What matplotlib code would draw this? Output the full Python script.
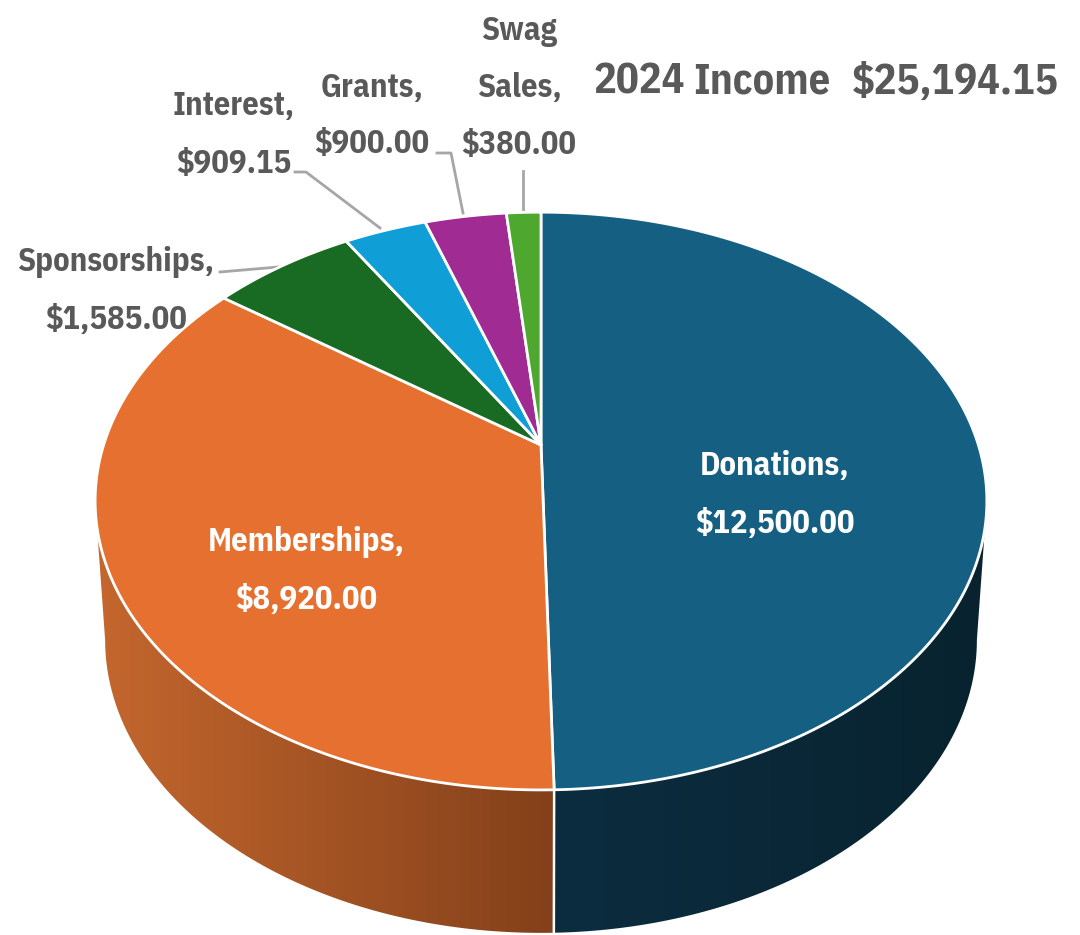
import numpy as np
import matplotlib
matplotlib.use("Agg")
from matplotlib import pyplot as plt
from matplotlib.colors import LinearSegmentedColormap
from matplotlib.patches import Polygon

names = ["Donations", "Memberships", "Sponsorships", "Interest", "Grants", "Swag\nSales"]
values = [12500.00, 8920.00, 1585.00, 909.15, 900.00, 380.00]
colors = ["#156082", "#E6702F", "#196B24", "#0F9ED5", "#A02B93", "#4EA72E"]
title_parts = ["2024", "Income", "$25,194.15"]

plt.rcParams["font.family"] = ["IBM Plex Sans Condensed", "Roboto Condensed", "Roboto", "DejaVu Sans"]
plt.rcParams["font.weight"] = "bold"


def rim(theta, cy=445, a=437.4, b=278, k=0.194):
    # circle seen in perspective, theta runs clockwise from the top
    w = 1 + k * np.cos(theta)
    return 541 + a * np.sin(theta) / w, cy - b * np.cos(theta) / w


def lower(theta):
    return rim(theta, cy=583, a=427.6, b=282)


fig = plt.figure(figsize=(10.8, 9.35), dpi=100)
ax = fig.add_axes([0, 0, 1, 1])
ax.axis("off")

edges = np.cumsum([0] + values) / sum(values) * 2 * np.pi
seam = edges[1]
side_start = np.arccos(-0.194)

# side walls, donations on the right and memberships on the left
t_right = np.linspace(side_start, seam, 200)
t_left = np.linspace(seam, 2 * np.pi - side_start, 200)
side_cmaps = [
    LinearSegmentedColormap.from_list("navy", ["#0C2D40", "#08232F"]),
    LinearSegmentedColormap.from_list("orange", ["#C4672E", "#83401A"]),
]
for t, cmap in zip([t_right, t_left], side_cmaps):
    x1, y1 = rim(t)
    x2, y2 = lower(t)
    xy = np.column_stack([np.r_[x1, x2[::-1]], np.r_[y1, y2[::-1]]])
    patch = Polygon(xy, closed=True, fc="none", ec="none")
    ax.add_patch(patch)
    grad = np.linspace(0, 1, 256).reshape(1, -1)
    im = ax.imshow(grad, cmap=cmap, extent=[xy[:, 0].min(), xy[:, 0].max(), 940, 300],
                   aspect="auto", zorder=1)
    im.set_clip_path(patch)
ax.set_xlim(0, 1080)
ax.set_ylim(935, 0)

sx, sy = rim(seam)
lx, ly = lower(seam)
ax.plot([sx, lx], [sy, ly], color="white", lw=1.8, zorder=2)

# top face, one wedge per value
for i in range(len(values)):
    t = np.linspace(edges[i], edges[i + 1], 300)
    x, y = rim(t)
    ax.fill(np.r_[541, x], np.r_[445, y], facecolor=colors[i], edgecolor="white",
            lw=2.0, joinstyle="round", zorder=3)

# leader lines
grey = "#A6A6A6"
ax.plot([220, 278], [272, 267], color=grey, lw=2, zorder=2)
ax.plot([295, 306, 380], [172, 172, 228], color=grey, lw=2, zorder=2)
ax.plot([437, 451, 463], [153, 153, 213], color=grey, lw=2, zorder=2)
ax.plot([523, 523], [171, 212], color=grey, lw=2, zorder=2)

# data labels
label_pos = [(775, 495), (306, 571), (116, 291), (234, 135), (372, 116), (519, 88)]
label_col = ["white", "white", "#595959", "#595959", "#595959", "#595959"]
for name, val, (lbx, lby), c in zip(names, values, label_pos, label_col):
    ax.text(lbx, lby, f"{name},\n${val:,.2f}", color=c, fontsize=23.5, ha="center", va="center",
            multialignment="center", linespacing=2.0, zorder=5)

# title
for part, tx in zip(title_parts, [594, 693, 852]):
    ax.text(tx, 82, part, color="#595959", fontsize=30.5, ha="left", va="center", zorder=5)

fig.savefig("out.png", dpi=100)
